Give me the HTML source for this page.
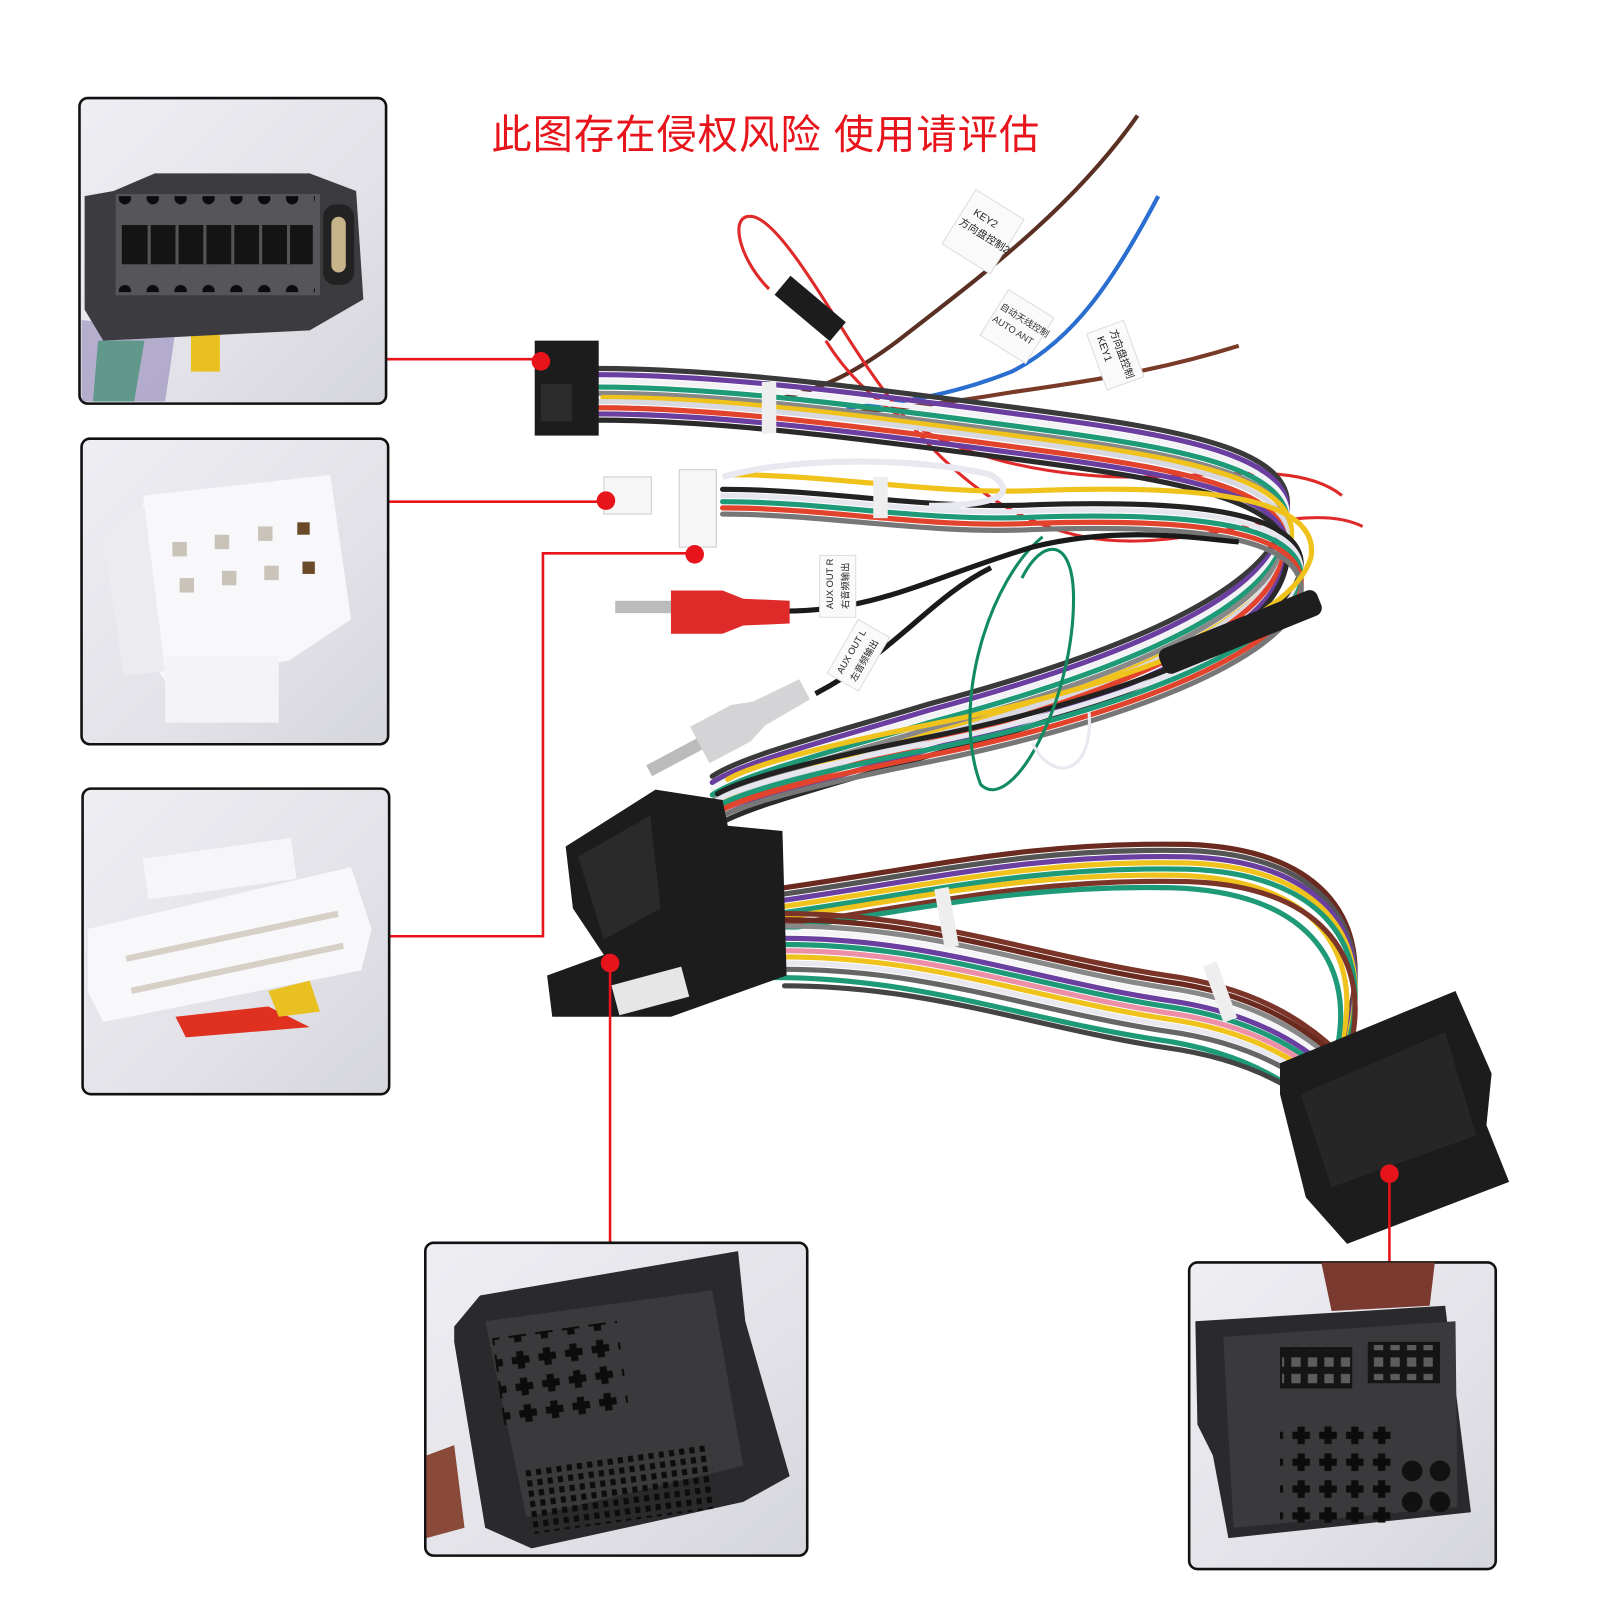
<!DOCTYPE html>
<html><head><meta charset="utf-8"><style>
html,body{margin:0;padding:0;background:#fff;width:1600px;height:1600px;overflow:hidden}
svg{display:block}
.t{font-family:"Liberation Sans","Noto Sans CJK SC",sans-serif}
</style></head><body>
<svg width="1600" height="1600" viewBox="0 0 1550 1550" xmlns="http://www.w3.org/2000/svg">
<defs>
<linearGradient id="bg" x1="0" y1="0" x2="1" y2="1"><stop offset="0" stop-color="#eeeef3"/><stop offset="0.6" stop-color="#e2e2e8"/><stop offset="1" stop-color="#d5d6dc"/></linearGradient>
<path id="bA" d="M580,375 C700,375 850,395 1000,415 C1150,435 1265,455 1245,520 C1225,600 1050,660 900,700 C800,730 720,750 690,770" fill="none"/>
<path id="bA2" d="M700,480 C800,480 900,500 1000,495 C1150,490 1270,500 1260,560 C1240,630 1050,690 900,720 C800,740 720,760 695,775" fill="none"/>
<path id="bB" d="M760,880 C900,860 1000,835 1150,838 C1280,842 1325,910 1310,990 C1300,1030 1310,1060 1340,1100" fill="none"/>
<path id="bC" d="M760,915 C900,915 1000,955 1130,975 C1240,990 1300,1040 1345,1110" fill="none"/>
<pattern id="holes" width="27" height="30" patternUnits="userSpaceOnUse"><circle cx="13" cy="12" r="6" fill="#0c0c0c"/></pattern>
<pattern id="sq" width="16" height="16" patternUnits="userSpaceOnUse"><rect x="3" y="3" width="9" height="9" fill="#e4e4e6"/></pattern>
<pattern id="cross" width="26" height="26" patternUnits="userSpaceOnUse"><rect x="9" y="4" width="7" height="17" fill="#0c0c0c"/><rect x="4" y="9" width="17" height="7" fill="#0c0c0c"/></pattern>
<pattern id="grill" width="10" height="10" patternUnits="userSpaceOnUse"><rect x="2" y="2" width="5" height="6" fill="#0c0c0c"/></pattern>
</defs>

<text class="t" x="476" y="144" font-size="39" fill="#e8141b" letter-spacing="1">此图存在侵权风险 使用请评估</text>

<path d="M1102,112 C1040,200 960,260 870,330 C830,360 800,375 760,385" stroke="#5a3022" stroke-width="4" fill="none"/>
<path d="M1122,190 C1080,270 1040,330 980,360 C930,380 880,390 820,395" stroke="#2a6fd0" stroke-width="4" fill="none"/>
<path d="M1200,335 C1120,360 1050,370 980,380 C920,390 880,395 820,400" stroke="#7a3a28" stroke-width="4" fill="none"/>
<path d="M820,325 C780,260 750,215 730,210 C705,205 715,250 745,280" stroke="#e02a2a" stroke-width="3" fill="none"/>
<path d="M820,325 C880,420 950,500 1050,520 C1150,540 1260,480 1320,510" stroke="#e02a2a" stroke-width="3" fill="none"/>
<path d="M800,330 C850,410 940,450 1050,460 C1150,470 1250,440 1300,480" stroke="#e02a2a" stroke-width="3" fill="none"/>
<g transform="rotate(40 780 300)"><rect x="748" y="284" width="70" height="24" fill="#1c1c1c"/></g>

<g transform="rotate(32 955 225)"><rect x="925" y="195" width="55" height="62" fill="#fafafa" stroke="#ddd"/>
<text class="t" x="935" y="217" font-size="10" fill="#222">KEY2</text><text class="t" x="928" y="232" font-size="10" fill="#222">方向盘控制2</text></g>
<g transform="rotate(32 985 315)"><rect x="960" y="290" width="52" height="52" fill="#fafafa" stroke="#ddd"/>
<text class="t" x="962" y="310" font-size="9" fill="#333">自动天线控制</text><text class="t" x="962" y="324" font-size="9" fill="#333">AUTO ANT</text></g>
<g transform="rotate(70 1080 340)"><rect x="1055" y="322" width="58" height="38" fill="#fafafa" stroke="#ddd"/>
<text class="t" x="1060" y="338" font-size="10" fill="#222">方向盘控制</text><text class="t" x="1062" y="352" font-size="10" fill="#222">KEY1</text></g>

<g stroke-width="5" stroke-linecap="round">
<use href="#bA" stroke="#3a3a3a" transform="translate(0,-18)"/>
<use href="#bA" stroke="#6a3fa0" transform="translate(0,-12)"/>
<use href="#bA" stroke="#f3f3f6" transform="translate(0,-6)"/>
<use href="#bA" stroke="#1f9a78"/>
<use href="#bA" stroke="#888" transform="translate(0,6)"/>
<use href="#bA" stroke="#f0c21c" transform="translate(4,10)"/>
<use href="#bA" stroke="#d8d8e0" transform="translate(0,14)"/>
<use href="#bA" stroke="#e2432c" transform="translate(-2,20)"/>
<use href="#bA" stroke="#6a3fa0" transform="translate(0,26)"/>
<use href="#bA" stroke="#2a2a2a" transform="translate(0,32)"/>
<use href="#bA2" stroke="#222" transform="translate(0,-6)"/>
<use href="#bA2" stroke="#e6e6ee"/>
<use href="#bA2" stroke="#1f9a78" transform="translate(0,6)"/>
<use href="#bA2" stroke="#e2432c" transform="translate(0,12)"/>
<use href="#bA2" stroke="#777" transform="translate(0,18)"/>
<use href="#bA2" stroke="#f0c21c" transform="translate(10,-20)"/>
</g>
<path d="M700,462 C780,440 900,445 960,460 C990,480 960,490 900,490" stroke="#e8e8f0" stroke-width="6" fill="none"/>
<path d="M1010,520 C960,560 920,680 950,760 C980,790 1040,680 1040,580 C1040,520 1010,520 990,560" stroke="#118a60" stroke-width="3" fill="none"/>
<path d="M1000,720 C1020,760 1060,750 1055,690" stroke="#e8e8f0" stroke-width="3" fill="none"/>
<rect x="1120" y="600" width="165" height="26" rx="8" transform="rotate(-22 1200 615)" fill="#1e1e1e"/>
<rect x="738" y="370" width="14" height="50" fill="#eee"/>
<rect x="846" y="462" width="14" height="40" fill="#eee"/>

<path d="M760,592 C850,592 900,560 1000,530 C1080,510 1150,520 1200,525" stroke="#1a1a1a" stroke-width="5" fill="none"/>
<path d="M790,672 C870,630 900,580 960,550" stroke="#1a1a1a" stroke-width="5" fill="none"/>
<rect x="596" y="582" width="58" height="12" fill="#bbb"/>
<path d="M650,572 L700,572 L720,580 L765,582 L765,604 L720,606 L700,614 L650,614 Z" fill="#df2a2a"/>
<g transform="rotate(-28 700 710)"><rect x="620" y="703" width="58" height="12" fill="#bbb"/>
<path d="M675,690 L720,690 L740,697 L790,699 L790,721 L740,723 L720,730 L675,730 Z" fill="#d4d4d6"/></g>
<g transform="rotate(-90 812 568)"><rect x="782" y="550" width="60" height="35" fill="#fafafa" stroke="#ddd"/><text class="t" x="790" y="563" font-size="9" fill="#222">AUX OUT R</text><text class="t" x="790" y="578" font-size="9" fill="#222">右音频输出</text></g>
<g transform="rotate(-60 832 635)"><rect x="802" y="617" width="60" height="35" fill="#fafafa" stroke="#ddd"/><text class="t" x="808" y="630" font-size="9" fill="#222">AUX OUT L</text><text class="t" x="808" y="645" font-size="9" fill="#222">左音频输出</text></g>

<rect x="518" y="330" width="62" height="92" fill="#1c1c1c"/>
<rect x="524" y="372" width="30" height="36" fill="#2c2c2c"/>
<rect x="585" y="462" width="46" height="36" fill="#f6f6f6" stroke="#ccc"/>
<rect x="658" y="455" width="36" height="75" fill="#f6f6f6" stroke="#ccc"/>

<g stroke-width="5" stroke-linecap="round">
<use href="#bB" stroke="#6b2a20" transform="translate(0,-20)"/>
<use href="#bB" stroke="#555" transform="translate(0,-14)"/>
<use href="#bB" stroke="#6a3fa0" transform="translate(0,-8)"/>
<use href="#bB" stroke="#f0c21c" transform="translate(0,-2)"/>
<use href="#bB" stroke="#1f9a78" transform="translate(0,4)"/>
<use href="#bB" stroke="#f0c21c" transform="translate(-8,10)"/>
<use href="#bB" stroke="#7a3428" transform="translate(0,16)"/>
<use href="#bB" stroke="#1f9a78" transform="translate(-14,22)"/>
<use href="#bC" stroke="#7a3428" transform="translate(0,-30)"/>
<use href="#bC" stroke="#6b2a20" transform="translate(0,-24)"/>
<use href="#bC" stroke="#888" transform="translate(0,-18)"/>
<use href="#bC" stroke="#f5f5f8" transform="translate(0,-12)"/>
<use href="#bC" stroke="#6a3fa0" transform="translate(0,-6)"/>
<use href="#bC" stroke="#1f9a78"/>
<use href="#bC" stroke="#ee8fa8" transform="translate(0,6)"/>
<use href="#bC" stroke="#f0c21c" transform="translate(0,12)"/>
<use href="#bC" stroke="#e8e8ee" transform="translate(0,18)"/>
<use href="#bC" stroke="#666" transform="translate(0,24)"/>
<use href="#bC" stroke="#1f9a78" transform="translate(-10,32)"/>
<use href="#bC" stroke="#444" transform="translate(0,40)"/>
</g>
<rect x="910" y="860" width="14" height="58" transform="rotate(-10 917 889)" fill="#eee"/>
<rect x="1175" y="932" width="14" height="58" transform="rotate(-20 1182 961)" fill="#eee"/>

<path d="M548,820 L635,765 L700,775 L705,800 L758,805 L762,945 L650,985 L535,985 L530,945 L585,925 L555,880 Z" fill="#1c1c1c"/>
<path d="M560,830 L630,790 L640,880 L585,910 Z" fill="#2a2a2a"/>
<rect x="595" y="945" width="70" height="30" fill="#e6e6e6" transform="rotate(-15 630 960)"/>
<path d="M1240,1030 L1410,960 L1445,1040 L1440,1090 L1462,1145 L1305,1205 L1265,1160 L1240,1060 Z" fill="#1c1c1c"/>
<path d="M1260,1060 L1400,1000 L1430,1100 L1290,1150 Z" fill="#262626"/>

<g stroke="#e8141b" stroke-width="2.5" fill="none">
<path d="M374,348 H524"/><path d="M376,486 H587"/><path d="M377,907 H526 V536 H673"/>
<path d="M591,933 V1204"/><path d="M1346,1137 V1223"/>
</g>
<g fill="#e8141b"><circle cx="524" cy="350" r="9"/><circle cx="587" cy="485" r="9"/><circle cx="673" cy="537" r="9"/><circle cx="591" cy="933" r="9"/><circle cx="1346" cy="1137" r="9"/></g>

<!-- panel 1 -->
<rect x="77" y="95" width="297" height="296" rx="8" fill="url(#bg)" stroke="#111" stroke-width="2.5"/>
<path d="M79,310 L79,389 L160,389 L170,320 Z" fill="#6e5aa0" opacity=".4"/>
<path d="M95,330 L140,330 L130,389 L90,389 Z" fill="#2a8a60" opacity=".6"/>
<rect x="185" y="322" width="28" height="38" fill="#e8c020"/>
<path d="M82,190 L110,185 L150,168 L300,168 L345,185 L352,290 L300,320 L100,330 L82,300 Z" fill="#3c3c40"/>
<rect x="112" y="188" width="198" height="98" fill="#55555a"/>
<rect x="115" y="190" width="190" height="25" fill="url(#holes)"/>
<rect x="115" y="258" width="190" height="25" fill="url(#holes)"/>
<rect x="118" y="218" width="185" height="38" fill="#141414"/>
<g fill="#555"><rect x="143" y="218" width="3" height="38"/><rect x="170" y="218" width="3" height="38"/><rect x="197" y="218" width="3" height="38"/><rect x="224" y="218" width="3" height="38"/><rect x="251" y="218" width="3" height="38"/><rect x="278" y="218" width="3" height="38"/></g>
<rect x="313" y="198" width="30" height="78" rx="12" fill="#222"/>
<rect x="321" y="210" width="14" height="54" rx="7" fill="#c7b48a"/>

<!-- panel 2 -->
<rect x="79" y="425" width="297" height="296" rx="8" fill="url(#bg)" stroke="#111" stroke-width="2.5"/>
<path d="M140,480 L320,460 L340,600 L280,640 L160,660 L120,600 Z" fill="#f8f8fa"/>
<rect x="160" y="635" width="110" height="65" fill="#f4f4f6"/>
<path d="M100,520 L140,490 L160,650 L120,655 Z" fill="#ececf0"/>
<g fill="#c9c3ba"><rect x="167" y="525" width="14" height="14"/><rect x="208" y="518" width="14" height="14"/><rect x="250" y="510" width="14" height="14"/><rect x="174" y="560" width="14" height="14"/><rect x="215" y="553" width="14" height="14"/><rect x="256" y="548" width="14" height="14"/></g>
<g fill="#6b4a2a"><rect x="288" y="506" width="12" height="12"/><rect x="293" y="544" width="12" height="12"/></g>

<!-- panel 3 -->
<rect x="80" y="764" width="297" height="296" rx="8" fill="url(#bg)" stroke="#111" stroke-width="2.5"/>
<path d="M85,900 L340,840 L360,900 L350,940 L100,990 L85,960 Z" fill="#f8f8fa"/>
<rect x="140" y="822" width="145" height="40" fill="#f6f6f8" transform="rotate(-8 210 840)"/>
<g fill="#d6d0c6"><rect x="120" y="905" width="210" height="6" transform="rotate(-12 220 908)"/><rect x="125" y="935" width="210" height="6" transform="rotate(-12 230 938)"/></g>
<path d="M170,985 L260,975 L300,995 L180,1005 Z" fill="#e03020"/>
<path d="M260,960 L300,950 L310,980 L270,985 Z" fill="#e8c020"/>

<!-- panel 4 -->
<rect x="412" y="1204" width="370" height="303" rx="8" fill="url(#bg)" stroke="#111" stroke-width="2.5"/>
<path d="M440,1285 L465,1255 L715,1212 L722,1280 L765,1430 L720,1455 L515,1500 L470,1480 L440,1300 Z" fill="#2a2a2c"/>
<path d="M470,1280 L690,1250 L720,1420 L510,1470 Z" fill="#3a3a3c"/>
<rect x="482" y="1288" width="122" height="92" fill="url(#cross)" transform="rotate(-8 540 1330)"/>
<rect x="512" y="1412" width="180" height="62" fill="url(#grill)" transform="rotate(-8 600 1440)"/>
<path d="M413,1410 L440,1400 L450,1480 L413,1490 Z" fill="#8a4a3a"/>

<!-- panel 5 -->
<rect x="1152" y="1223" width="297" height="297" rx="8" fill="url(#bg)" stroke="#111" stroke-width="2.5"/>
<path d="M1280,1223 L1390,1223 L1385,1265 L1290,1270 Z" fill="#7a3a30"/>
<path d="M1158,1280 L1400,1265 L1425,1465 L1190,1490 L1175,1410 L1160,1380 Z" fill="#2a2a2c"/>
<path d="M1185,1295 L1410,1280 L1412,1460 L1195,1480 Z" fill="#3a3a3c"/>
<rect x="1240" y="1305" width="70" height="40" fill="#151515"/><rect x="1325" y="1300" width="70" height="40" fill="#151515"/>
<rect x="1242" y="1308" width="66" height="34" fill="url(#sq)" opacity=".35"/><rect x="1327" y="1303" width="66" height="34" fill="url(#sq)" opacity=".35"/>
<rect x="1240" y="1380" width="110" height="95" fill="url(#cross)"/>
<g fill="#111"><circle cx="1368" cy="1425" r="10"/><circle cx="1395" cy="1425" r="10"/><circle cx="1368" cy="1455" r="10"/><circle cx="1395" cy="1455" r="10"/></g>
</svg>
</body></html>
